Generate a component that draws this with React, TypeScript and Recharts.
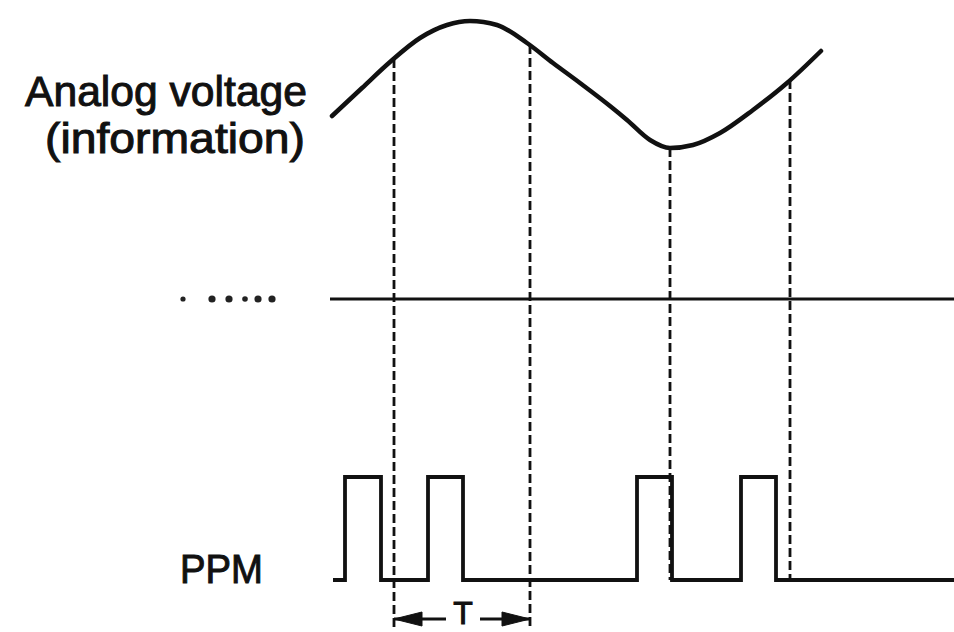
import React from "react";
import { ComposedChart, Line, Scatter, XAxis, YAxis } from "recharts";

// Analog voltage curve: time (t) and voltage (v)
const curveT = [332, 362, 390, 420, 447, 470, 497, 527, 553, 580, 610, 627, 650, 670, 693, 720, 753, 787, 821];
const curveV = [1.83, 2.11, 2.37, 2.61, 2.74, 2.78, 2.74, 2.56, 2.36, 2.16, 1.93, 1.79, 1.59, 1.51, 1.54, 1.66, 1.89, 2.16, 2.48];

// Sampling instants and the sampled voltage
const sampleT = [394, 530, 670, 790];
const sampleV = [2.4, 2.54, 1.51, 2.19];
const sampleBottom = [-3.31, -3.31, -2.81, -2.81];

// Reference (zero) line and the leading dots
const refLineT = [330, 954];
const dotT = [183, 212, 229, 245, 258, 272];
const dotR = [2.6, 3.6, 3.6, 2.8, 3.6, 3.6];

// PPM pulse train edges (stepAfter) and levels
const ppmT = [333, 345, 381, 428, 463, 637, 672, 741, 776, 954];
const ppmLevel = [0, 1, 0, 1, 0, 1, 0, 1, 0, 0];

// Period T marker
const periodStart = 394;
const periodEnd = 530;
const periodV = -3.2;
const periodGap = [446, 480];

const W = 954;
const H = 632;

const curveData = curveT.map((t, i) => ({ x: t, v: curveV[i] }));
const refData = refLineT.map((t) => ({ x: t, v: 0 }));
const dotData = dotT.map((t, i) => ({ x: t, v: 0, r: dotR[i] }));
const ppmData = ppmT.map((t, i) => ({ x: t, p: ppmLevel[i] }));
const shaftData = [
  { x: periodStart, v: periodV },
  { x: periodGap[0], v: periodV },
  { x: (periodGap[0] + periodGap[1]) / 2, v: null },
  { x: periodGap[1], v: periodV },
  { x: periodEnd, v: periodV },
];
const headData = [
  { x: periodStart, v: periodV, dir: -1 },
  { x: periodEnd, v: periodV, dir: 1 },
];

const Arrow = (props: any) => {
  const { cx, cy, payload } = props;
  const d = payload.dir;
  const len = 28;
  const hh = 7;
  const pts = `${cx},${cy} ${cx - d * len},${cy - hh} ${cx - d * len},${cy + hh}`;
  return <polygon points={pts} fill="#111" stroke="#111" strokeWidth={1} />;
};

const Dot = (props: any) => {
  const { cx, cy, payload } = props;
  return <circle cx={cx} cy={cy} r={payload.r} fill="#222" />;
};

const font = "'Liberation Sans', Arial, sans-serif";

export default function App() {
  return (
    <div style={{ position: "fixed", left: 0, top: 0, width: W, height: H, background: "#fff" }}>
      <ComposedChart width={W} height={H} margin={{ top: 0, right: 0, bottom: 0, left: 0 }}>
        <XAxis hide type="number" dataKey="x" domain={[0, 954]} allowDataOverflow />
        <YAxis hide yAxisId="v" type="number" domain={[-3.33, 2.99]} allowDataOverflow />
        <YAxis hide yAxisId="p" type="number" domain={[-0.505, 5.631]} allowDataOverflow />
        <Line
          yAxisId="v"
          data={curveData}
          dataKey="v"
          type="monotone"
          stroke="#111"
          strokeWidth={4.5}
          strokeLinecap="round"
          dot={false}
          isAnimationActive={false}
        />
        {sampleT.map((t, i) => (
          <Line
            key={"s" + i}
            yAxisId="v"
            data={[
              { x: t, v: sampleV[i] },
              { x: t, v: sampleBottom[i] },
            ]}
            dataKey="v"
            type="linear"
            stroke="#111"
            strokeWidth={2.8}
            strokeDasharray="9 4"
            dot={false}
            isAnimationActive={false}
          />
        ))}
        <Line
          yAxisId="v"
          data={refData}
          dataKey="v"
          type="linear"
          stroke="#111"
          strokeWidth={3.2}
          dot={false}
          isAnimationActive={false}
        />
        <Scatter yAxisId="v" data={dotData} dataKey="v" shape={<Dot />} isAnimationActive={false} />
        <Line
          yAxisId="p"
          data={ppmData}
          dataKey="p"
          type="stepAfter"
          stroke="#111"
          strokeWidth={3.8}
          dot={false}
          isAnimationActive={false}
        />
        <Line
          yAxisId="v"
          data={shaftData}
          dataKey="v"
          type="linear"
          stroke="#111"
          strokeWidth={2.8}
          dot={false}
          connectNulls={false}
          isAnimationActive={false}
        />
        <Scatter yAxisId="v" data={headData} dataKey="v" shape={<Arrow />} isAnimationActive={false} />
      </ComposedChart>
      <svg
        width={W}
        height={H}
        style={{ position: "absolute", left: 0, top: 0, pointerEvents: "none" }}
      >
        <g fontFamily={font} fill="#111" stroke="#111" strokeWidth={1}>
          <text x={307} y={106} fontSize={42} textAnchor="end" textLength={282} lengthAdjust="spacingAndGlyphs">
            Analog voltage
          </text>
          <text x={305} y={153} fontSize={42} textAnchor="end" textLength={260} lengthAdjust="spacingAndGlyphs">
            (information)
          </text>
          <text x={180} y={583} fontSize={41} textLength={83} lengthAdjust="spacingAndGlyphs">
            PPM
          </text>
          <text x={463} y={624} fontSize={32} textAnchor="middle">
            T
          </text>
        </g>
      </svg>
    </div>
  );
}
